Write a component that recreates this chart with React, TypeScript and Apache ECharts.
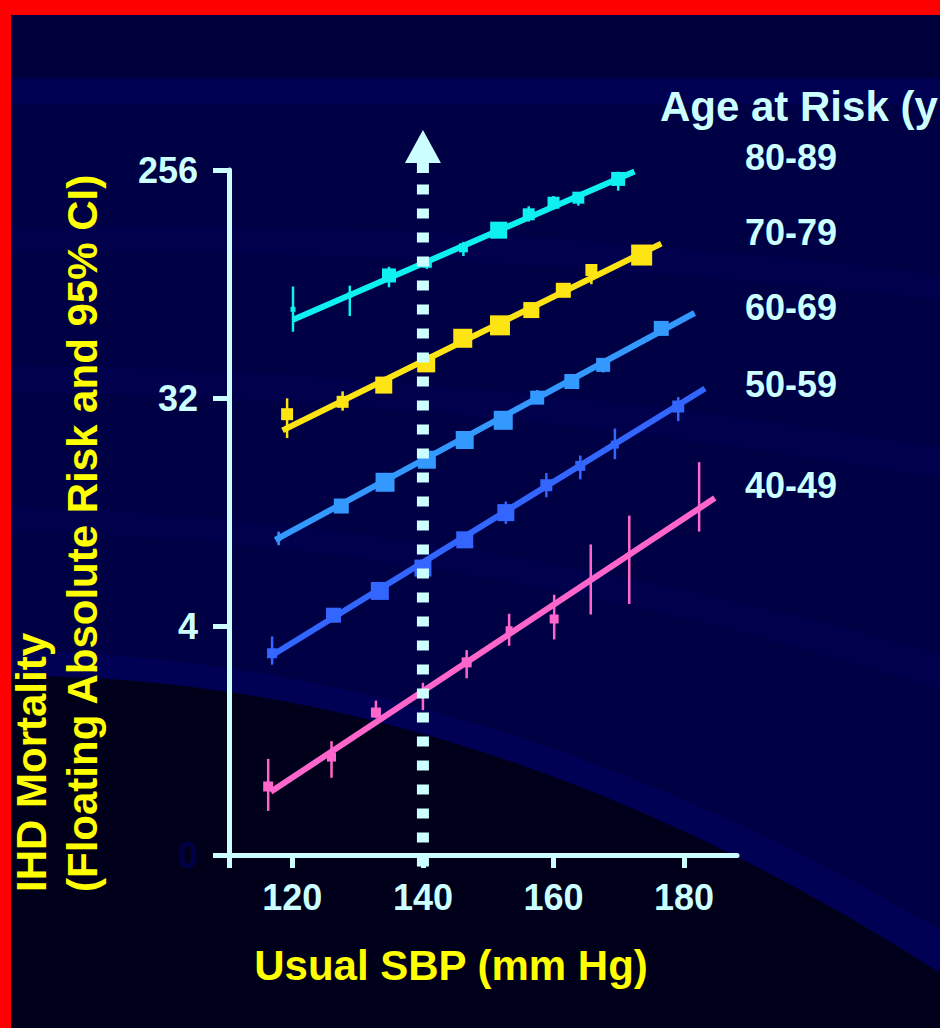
import React, { useEffect, useRef } from 'react';
import * as echarts from 'echarts';

// ---------- data ----------
const AGE_GROUPS = ['80-89', '70-79', '60-69', '50-59', '40-49'];
const SERIES_COLORS = ['#0ff0f0', '#ffe414', '#3399ff', '#3366ff', '#ff66cc'];

// Usual SBP (mm Hg) of each group point
const SBP_80_89 = [120.1, 128.8, 134.8, 140.6, 146.2, 151.6, 156.2, 160.0, 163.8, 169.9];
const SBP_70_79 = [119.2, 127.7, 134.0, 140.5, 146.1, 151.8, 156.6, 161.5, 165.8, 173.5];
const SBP_60_69 = [117.9, 127.5, 134.2, 140.6, 146.4, 152.3, 157.5, 162.8, 167.6, 176.5];
const SBP_50_59 = [116.9, 126.3, 133.4, 140.0, 146.4, 152.7, 158.9, 164.1, 169.4, 179.1];
const SBP_40_49 = [116.3, 126.0, 132.8, 140.0, 146.7, 153.2, 160.1, 165.7, 171.6, 182.3];

// IHD mortality (floating absolute risk)
const RISK_80_89 = [72, 82, 98, 110, 126, 148, 171, 190, 199, 236];
const RISK_70_79 = [27.7, 31.0, 36.1, 44.0, 55.3, 62.2, 71.5, 85.6, 103, 118];
const RISK_60_69 = [8.94, 12.0, 14.9, 18.3, 21.9, 26.2, 32.2, 37.3, 43.4, 60.5];
const RISK_50_59 = [3.14, 4.44, 5.54, 6.82, 8.82, 11.3, 14.5, 17.3, 21.0, 29.7];
const RISK_40_49 = [0.933, 1.22, 1.83, 2.17, 2.89, 3.89, 4.29, 6.19, 7.78, 11.7];

// 95% CI lower / upper
const LO_80_89 = [58.7, 67.7, 88, 104, 117, 143, 160, 179, 185, 212];
const HI_80_89 = [88.6, 89.3, 106, 116, 133, 153, 184, 202, 209, 252];
const LO_70_79 = [22.3, 28.6, 34.5, 42, 53, 59, 68.5, 82, 90.5, 113];
const HI_70_79 = [32, 34.1, 37.8, 46, 57.5, 65, 74.5, 89, 108, 123];
const LO_60_69 = [8.4, 11.6, 14.4, 17.7, 21.2, 25.4, 30.5, 35.0, 40.5, 58.5];
const HI_60_69 = [9.5, 12.4, 15.4, 18.9, 22.6, 27.0, 34.5, 39.0, 45.0, 62.5];
const LO_50_59 = [2.83, 4.25, 5.35, 6.6, 8.55, 10.2, 13.0, 15.3, 18.4, 26.0];
const HI_50_59 = [3.66, 4.65, 5.75, 7.05, 9.1, 12.5, 16.2, 19.0, 24.3, 32.4];
const LO_40_49 = [0.747, 1.01, 1.74, 1.87, 2.50, 3.36, 3.56, 4.47, 4.92, 9.51];
const HI_40_49 = [1.20, 1.41, 2.04, 2.40, 3.23, 4.50, 5.35, 8.46, 11.0, 17.9];

// fitted regression line end points (SBP, risk)
const FIT_SBP = [[120.1, 172.4], [118.5, 176.5], [117.4, 181.6], [116.6, 183.2], [116.7, 184.7]];
const FIT_RISK = [[65.4, 252.5], [23.9, 131], [8.82, 69.6], [3.05, 35.0], [0.889, 12.9]];

const X_MIN = 110.3;
const X_MAX = 188.1;
const X_TICKS = [120, 140, 160, 180];
const Y_TICKS = [0.5, 4, 32, 256];
const REFERENCE_SBP = 140;

// ---------- styles / layout ----------
const SQUARE_PX = [
  [5, 5, 14, 10, 9, 17, 12, 12, 12, 14],
  [12, 12, 17, 18, 19, 20, 16, 15, 12, 21],
  [5, 15, 19, 18, 18, 19, 14, 15, 14, 15],
  [10, 15, 18, 17, 17, 17, 12, 10, 8, 12],
  [10, 9, 10, 8, 10, 7, 9, 3, 3, 3],
];
const LABEL_Y = [157.5, 232.5, 307.5, 384.5, 485.5];
const LIGHT = '#ccffff';
const YELLOW = '#ffff00';
const FONT = "'Liberation Sans', Arial, Helvetica, sans-serif";

const GROUPS = [
  { sbp: SBP_80_89, risk: RISK_80_89, lo: LO_80_89, hi: HI_80_89 },
  { sbp: SBP_70_79, risk: RISK_70_79, lo: LO_70_79, hi: HI_70_79 },
  { sbp: SBP_60_69, risk: RISK_60_69, lo: LO_60_69, hi: HI_60_69 },
  { sbp: SBP_50_59, risk: RISK_50_59, lo: LO_50_59, hi: HI_50_59 },
  { sbp: SBP_40_49, risk: RISK_40_49, lo: LO_40_49, hi: HI_40_49 },
];

const toLog = (v: number) => Math.log2(v);
const Y_MIN_LOG = toLog(Y_TICKS[0]);
const Y_MAX_LOG = toLog(Y_TICKS[Y_TICKS.length - 1]);

// background decoration shapes
const BG_PATHS: Record<string, string> = {
  bgBandA: 'M0 228 Q470 216.5 940 275 L940 300 Q470 248 0 252 Z',
  bgBandB: 'M0 365 Q470 370 940 447 L940 479 Q470 396.5 0 392 Z',
  bgBandC: 'M0 505 Q470 521 940 653 L940 690 Q470 539 0 532 Z',
  bgBandD: 'M0 650 Q470 654 940 930 L940 973 Q470 671.5 0 676 Z',
  bgBlack: 'M0 676 Q470 671.5 940 973 L940 1028 L0 1028 Z',
};
Object.keys(BG_PATHS).forEach((k) => {
  echarts.graphic.registerShape(k, echarts.graphic.extendPath(BG_PATHS[k], {}) as any);
});

function textEl(text: string, x: number, y: number, size: number, fill: string, align: string, rotation = 0) {
  return {
    type: 'text',
    x,
    y,
    rotation,
    z: 50,
    silent: true,
    style: {
      text,
      fill,
      fontSize: size,
      fontWeight: 'bold',
      fontFamily: FONT,
      align,
      textAlign: align,
      verticalAlign: 'middle',
      textVerticalAlign: 'middle',
    },
  };
}

function buildOption() {
  const series: any[] = [];
  GROUPS.forEach((g, i) => {
    const color = SERIES_COLORS[i];
    const sizes = SQUARE_PX[i];
    series.push({
      type: 'line',
      name: AGE_GROUPS[i],
      data: FIT_SBP[i].map((x, k) => [x, toLog(FIT_RISK[i][k])]),
      symbol: 'none',
      showSymbol: false,
      silent: true,
      z: 3,
      lineStyle: { color, width: 6, cap: 'butt' },
      itemStyle: { color },
    });
    series.push({
      type: 'custom',
      name: AGE_GROUPS[i] + ' 95% CI',
      data: g.sbp.map((x, k) => [x, toLog(g.lo[k]), toLog(g.hi[k])]),
      encode: { x: 0, y: [1, 2] },
      silent: true,
      z: 4,
      renderItem: (_p: any, api: any) => {
        const a = api.coord([api.value(0), api.value(1)]);
        const b = api.coord([api.value(0), api.value(2)]);
        return {
          type: 'line',
          shape: { x1: a[0], y1: a[1], x2: b[0], y2: b[1] },
          style: { stroke: color, lineWidth: 2.5 },
        };
      },
    });
    series.push({
      type: 'scatter',
      name: AGE_GROUPS[i] + ' points',
      data: g.sbp.map((x, k) => [x, toLog(g.risk[k])]),
      symbol: 'rect',
      symbolSize: (_v: any, p: any) => sizes[p.dataIndex],
      silent: true,
      z: 5,
      itemStyle: { color, opacity: 1 },
    });
  });

  // dotted reference arrow at SBP 140
  series.push({
    type: 'custom',
    name: 'reference',
    data: [[REFERENCE_SBP, Y_MAX_LOG]],
    encode: { x: 0, y: 1 },
    clip: false,
    silent: true,
    z: 10,
    renderItem: (_p: any, api: any) => {
      const top = api.coord([api.value(0), Y_MAX_LOG]);
      const bottom = api.coord([api.value(0), Y_MIN_LOG]);
      const x = top[0];
      return {
        type: 'group',
        children: [
          {
            type: 'line',
            shape: { x1: x, y1: top[1] + 14.5, x2: x, y2: bottom[1] + 14 },
            style: { stroke: LIGHT, lineWidth: 12, lineDash: [10, 14], lineCap: 'butt' },
          },
          { type: 'rect', shape: { x: x - 6, y: top[1] - 7, width: 12, height: 10 }, style: { fill: LIGHT } },
          {
            type: 'polygon',
            shape: { points: [[x, top[1] - 40], [x - 18, top[1] - 7], [x + 18, top[1] - 7]] },
            style: { fill: LIGHT },
          },
        ],
      };
    },
  });

  const graphic: any[] = [
    { type: 'rect', shape: { x: 0, y: 15, width: 940, height: 63 }, style: { fill: '#00003c' }, z: -10, silent: true },
    { type: 'rect', shape: { x: 0, y: 78, width: 940, height: 26 }, style: { fill: '#000052' }, z: -10, silent: true },
    { type: 'bgBandA', x: 0, y: 0, style: { fill: '#00004d' }, z: -10, silent: true },
    { type: 'bgBandB', x: 0, y: 0, style: { fill: '#00004d' }, z: -10, silent: true },
    { type: 'bgBandC', x: 0, y: 0, style: { fill: '#00004d' }, z: -10, silent: true },
    { type: 'bgBandD', x: 0, y: 0, style: { fill: '#000054' }, z: -10, silent: true },
    { type: 'bgBlack', x: 0, y: 0, style: { fill: '#00001a' }, z: -10, silent: true },
    { type: 'rect', shape: { x: 0, y: 0, width: 940, height: 15 }, style: { fill: '#ff0000' }, z: 100, silent: true },
    { type: 'rect', shape: { x: 0, y: 0, width: 11, height: 1028 }, style: { fill: '#ff0000' }, z: 100, silent: true },
    textEl('Age at Risk (yr)', 660, 106.5, 42, LIGHT, 'left'),
    ...AGE_GROUPS.map((g, i) => textEl(g, 745, LABEL_Y[i], 36, LIGHT, 'left')),
    textEl('Usual SBP (mm Hg)', 451, 965.5, 42, YELLOW, 'center'),
    textEl('IHD Mortality', 31, 892, 42, YELLOW, 'left', Math.PI / 2),
    textEl('(Floating Absolute Risk and 95% CI)', 82.5, 892, 42, YELLOW, 'left', Math.PI / 2),
  ];

  return {
    animation: false,
    backgroundColor: '#000044',
    grid: { left: 229, right: 203, top: 170, bottom: 173, containLabel: false, outerBoundsMode: 'none' },
    xAxis: {
      type: 'value',
      min: X_MIN,
      max: X_MAX,
      splitLine: { show: false },
      axisLine: { show: true, onZero: false, lineStyle: { color: LIGHT, width: 5 } },
      axisTick: { show: true, length: 13, customValues: [X_MIN, ...X_TICKS], lineStyle: { color: LIGHT, width: 5 } },
      axisLabel: {
        customValues: X_TICKS,
        margin: 24,
        color: LIGHT,
        fontSize: 36,
        fontWeight: 'bold',
        fontFamily: FONT,
      },
    },
    yAxis: {
      type: 'value',
      min: Y_MIN_LOG,
      max: Y_MAX_LOG,
      splitLine: { show: false },
      axisLine: { show: true, onZero: false, lineStyle: { color: LIGHT, width: 5 } },
      axisTick: { show: true, length: 16, customValues: Y_TICKS.map(toLog), lineStyle: { color: LIGHT, width: 5 } },
      axisLabel: {
        customValues: Y_TICKS.map(toLog),
        margin: 31,
        fontSize: 36,
        fontWeight: 'bold',
        fontFamily: FONT,
        formatter: (v: number) => {
          const r = Math.pow(2, Number(v));
          return r < 1 ? '0' : String(Math.round(r));
        },
        color: (v: any) => (Number(v) < 0 ? '#000048' : LIGHT),
      },
    },
    graphic,
    series,
  };
}

export default function App() {
  const ref = useRef<HTMLDivElement>(null);
  useEffect(() => {
    const chart = echarts.init(ref.current!, null, { renderer: 'svg' });
    chart.setOption(buildOption() as any);
    return () => chart.dispose();
  }, []);
  return <div ref={ref} style={{ position: 'fixed', left: 0, top: 0, width: 940, height: 1028 }} />;
}
